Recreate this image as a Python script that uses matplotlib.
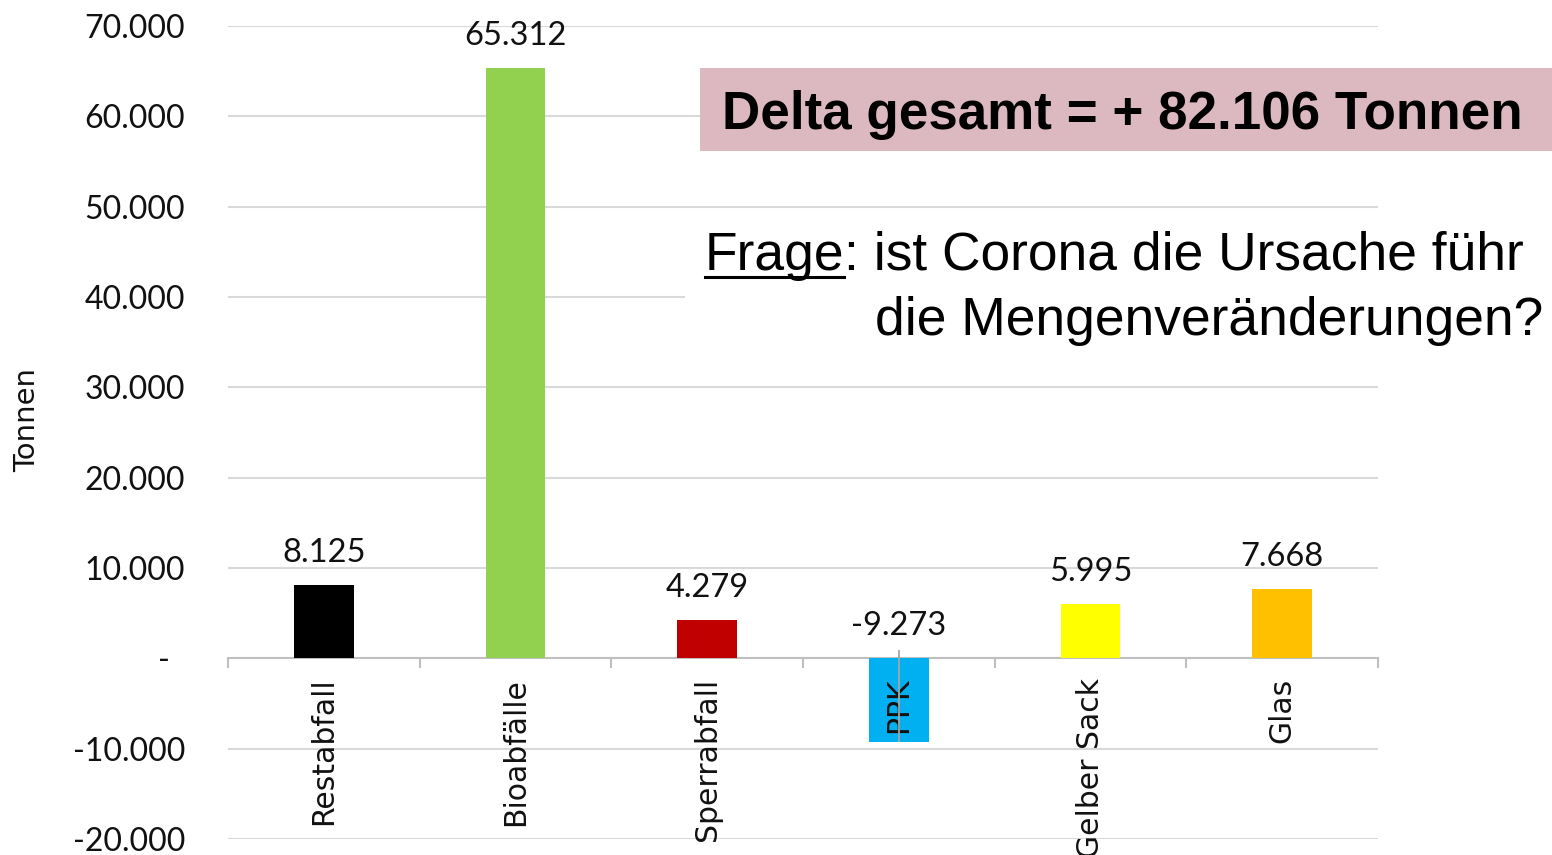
import matplotlib
matplotlib.use("Agg")
import matplotlib.pyplot as plt
from matplotlib.patches import Rectangle
from matplotlib.lines import Line2D
from matplotlib.transforms import ScaledTranslation
import numpy as np

categories = ["Restabfall", "Bioabfälle", "Sperrabfall", "PPK", "Gelber Sack", "Glas"]
values = [8125, 65312, 4279, -9273, 5995, 7668]
value_labels = ["8.125", "65.312", "4.279", "-9.273", "5.995", "7.668"]
bar_colors = ["#000000", "#92D050", "#C00000", "#00B0F0", "#FFFF00", "#FFC000"]
y_ticks = [-20000, -10000, 0, 10000, 20000, 30000, 40000, 50000, 60000, 70000]
y_tick_labels = ["-20.000", "-10.000", "-", "10.000", "20.000", "30.000",
                 "40.000", "50.000", "60.000", "70.000"]
y_label = "Tonnen"
delta_text = "Delta gesamt = + 82.106 Tonnen"
frage_word = "Frage"
frage_line1 = ": ist Corona die Ursache führ"
frage_line2 = "die Mengenveränderungen?"

W, H = 1552, 855
fig = plt.figure(figsize=(W / 100, H / 100), dpi=100)
fig.patch.set_facecolor("white")


def px(x, y):
    return (x / W, 1 - y / H)


left, right, top, bottom = 228, 1378, 26, 839
ax = fig.add_axes([left / W, 1 - bottom / H, (right - left) / W, (bottom - top) / H])

x = np.arange(len(categories))
ax.bar(x, values, width=0.31, color=bar_colors, zorder=2)
ax.set_xlim(-0.5, len(categories) - 0.5)
ax.set_ylim(-20000, 70000)

# gridlines drawn manually below bars; axis (tick labels) above bars
for yt in y_ticks:
    if yt != 0:
        ax.axhline(yt, color="#d9d9d9", linewidth=1.5, zorder=1)
ax.set_axisbelow(False)
for s in ["top", "right", "left"]:
    ax.spines[s].set_visible(False)
ax.spines["bottom"].set_position(("data", 0))
ax.spines["bottom"].set_color("#bfbfbf")
ax.spines["bottom"].set_linewidth(1.5)
ax.spines["bottom"].set_zorder(1.5)

ax.set_yticks(y_ticks)
ax.set_yticklabels(y_tick_labels, fontfamily="Lato", fontsize=23, color="#111111")
ax.tick_params(axis="y", length=0, pad=31)
for lbl in ax.get_yticklabels():
    if lbl.get_text() == "-":
        lbl.set_transform(lbl.get_transform() + ScaledTranslation(-0.15, 0, fig.dpi_scale_trans))

ax.set_xticks(x)
ax.set_xticklabels(categories, rotation=90, fontfamily="DejaVu Sans", fontsize=21.5,
                   color="#111111", va="top", ha="center")
ax.set_xticks(np.arange(-0.5, len(categories), 1.0), minor=True)
ax.tick_params(axis="x", which="major", length=0, pad=14)
ax.tick_params(axis="x", which="minor", length=7, width=1.5, color="#bfbfbf", direction="out")

# value labels
for xi, v, t in zip(x, values, value_labels):
    ax.annotate(t, xy=(xi, max(v, 0)), xytext=(0, 23), textcoords="offset points",
                ha="center", va="center", fontfamily="Lato", fontsize=23.5, color="#111111",
                zorder=4)

# leader line through the negative bar
for xi, v in zip(x, values):
    if v < 0:
        ax.vlines(xi, v, abs(v) * 0.1, color="#a6a6a6", linewidth=1.3, zorder=3)

fig.text(*px(27, 420), y_label, rotation=90, ha="center", va="center",
         fontfamily="DejaVu Sans", fontsize=21, color="#111111")

# pink box with delta text
fig.patches.append(Rectangle(px(700, 151), (1552 - 700) / W, (151 - 68) / H,
                             transform=fig.transFigure, facecolor="#DCB9C0",
                             edgecolor="none", zorder=2))
fig.text(*px(722, 129), delta_text, ha="left", va="baseline",
         fontfamily="Liberation Sans", fontweight="bold", fontsize=38.2, color="black", zorder=3)

# white box behind question text
fig.patches.append(Rectangle(px(685, 372), (1552 - 685) / W, (372 - 222) / H,
                             transform=fig.transFigure, facecolor="white",
                             edgecolor="none", zorder=2))
fs_q = 38.4
t_word = fig.text(*px(705, 270), frage_word, ha="left", va="baseline",
                  fontfamily="Liberation Sans", fontsize=fs_q, color="black", zorder=3)
fig.canvas.draw()
r = fig.canvas.get_renderer()
bb = t_word.get_window_extent(r)
x0, x1 = bb.x0 / W, bb.x1 / W
fig.text(x1, 1 - 270 / H, frage_line1, ha="left", va="baseline",
         fontfamily="Liberation Sans", fontsize=fs_q, color="black", zorder=3)
fig.lines.append(Line2D([x0, x1], [1 - 277 / H] * 2, transform=fig.transFigure,
                        color="black", linewidth=2.2, zorder=3))
fig.text(*px(875, 335), frage_line2, ha="left", va="baseline",
         fontfamily="Liberation Sans", fontsize=fs_q, color="black", zorder=3)

fig.savefig("out.png", dpi=100)
